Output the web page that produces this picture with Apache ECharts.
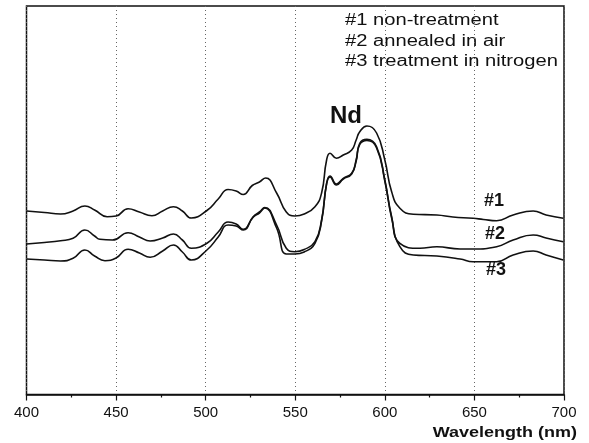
<!DOCTYPE html>
<html>
<head>
<meta charset="utf-8">
<script src="https://cdn.jsdelivr.net/npm/echarts@6/dist/echarts.min.js"></script>
<style>html,body{margin:0;padding:0;background:#fff}#c{width:589px;height:443px}</style>
</head>
<body>
<div id="c"></div>
<script>
// Wavelength (nm) and intensity (arbitrary units)
const wl1 = [400,410,419,426,432.6,438,445,450,456.7,463,470,476,482,487,492,500.7,507,512.5,517,521,526,530,533.5,539.6,545,549.8,555,561,564.7,567.5,569.4,573,576.8,581.5,584,586,590,595.4,600,603.8,608.4,615.9,629,638,649.3,655,662.4,671.6,682.8,690,699.6];
const s1 = [183.5,182,180.5,183.5,188.5,184.5,177.8,178.5,185.8,182.5,178.8,183.5,187.8,183.5,176.5,184,195.5,205,203.5,200,209,212.5,216.5,201.5,182.5,178.5,180.5,187.8,201.5,234.5,241.2,236.2,239.5,244.5,254.5,262.8,268.5,261.5,234.5,202.8,186.2,180.2,179.5,177.5,176.2,175,173.8,179.5,183.5,179.5,176.2];

const wl2 = [400,410,419,426,432.6,438,441,448,456.7,463,469,476,482,487,492,500.7,507,512.5,517,521,526.5,530,533,539.6,545,549.8,555,561,564.7,567.5,569.4,573,576.8,581.5,584,586,590,595.4,600,603.8,608.4,619.6,629,642,649.3,662.4,671.6,682.8,690,699.6];
const s2 = [150.5,152,153.8,156.2,164.5,158.5,155.2,154.5,161.8,157.5,153.5,156.5,160.5,154.5,146.2,151.2,162.5,172.5,170.5,165.2,177.8,182.5,187,169.5,146.2,142.8,145,152.8,174.5,211.2,218.5,210.5,216.2,221.2,234.5,251.2,255.2,247.8,214.5,177.8,151.2,146.2,147.8,145.5,145.5,147.8,154.5,159.5,156.5,152.8];

const wl3 = [400,410,419,426,432.6,438,443.8,450,456.7,463,469,476,482,487,492,500.7,507,512.5,517,521,526.5,530,533,539.6,545,549.8,555,561,564.7,567.5,569.4,573,576.8,581.5,584,586,590,595.4,600,603.8,608.4,615.9,629,642,649.3,662.4,671.6,682.8,690,699.6];
const s3 = [135.5,134.5,133.5,136.2,144.5,138.5,133.8,136.5,145.2,141.5,137.2,143.5,149.5,142.5,134.5,144.5,157.5,169.5,168.5,164.5,177.2,181.5,186.5,166.5,140.5,140.5,142.5,151.2,173.5,210.5,217.5,209.5,215.5,220.5,233.5,250,254,246.5,213.5,176.5,147.8,139.5,138.5,135.5,132.8,132.8,139.5,143.5,139.5,134.5];

const xTicks = [400,450,500,550,600,650,700];
const legendLines = ['#1 non-treatment', '#2 annealed in air', '#3 treatment in nitrogen'];
const curveLabels = ['#1', '#2', '#3'];
const peakLabel = 'Nd';
const xTitle = 'Wavelength (nm)';

const zip = (a, b) => a.map((v, i) => [v, b[i]]);
const FONT = '"Liberation Sans", Arial, sans-serif';

const lineSeries = (name, data) => ({
  name, type: 'line', data, symbol: 'none', smooth: 0.5,
  lineStyle: { color: '#111', width: 1.6 }, silent: true, animation: false
});

const chart = echarts.init(document.getElementById('c'), null, { renderer: 'canvas' });
chart.setOption({
  animation: false,
  backgroundColor: '#fff',
  grid: { left: 26.5, right: 25, top: 6, bottom: 48.5, show: true, borderColor: '#111', borderWidth: 1.5, backgroundColor: 'transparent' },
  xAxis: {
    type: 'value', min: xTicks[0], max: xTicks[xTicks.length - 1], interval: 50,
    axisLine: { show: true, lineStyle: { color: '#111', width: 1.5 } },
    axisTick: { show: true, inside: false, length: 6, lineStyle: { color: '#111', width: 1.2 } },
    minorTick: { show: true, splitNumber: 2, length: 3, lineStyle: { color: '#111', width: 1.2 } },
    axisLabel: { color: '#111', fontSize: 15, fontFamily: FONT, margin: 11 },
    splitLine: { show: true, lineStyle: { color: '#666', type: [1, 3], width: 1 } }
  },
  yAxis: {
    type: 'value', min: 0, max: 388.5,
    axisLine: { show: false }, axisTick: { show: false }, axisLabel: { show: false }, splitLine: { show: false }
  },
  series: [
    lineSeries('#1', zip(wl1, s1)),
    lineSeries('#2', zip(wl2, s2)),
    lineSeries('#3', zip(wl3, s3))
  ],
  graphic: [
    ...legendLines.map((t, i) => ({
      type: 'text', x: 345, y: 21 + i * 20.5, scaleX: 1.26,
      style: { text: t, fill: '#111', font: '16px ' + FONT, textAlign: 'left', textVerticalAlign: 'middle' }
    })),
    { type: 'text', x: 346, y: 116, style: { text: peakLabel, fill: '#111', font: 'bold 24px ' + FONT, textAlign: 'center', textVerticalAlign: 'middle' } },
    { type: 'text', x: 494, y: 201, style: { text: curveLabels[0], fill: '#111', font: 'bold 18px ' + FONT, textAlign: 'center', textVerticalAlign: 'middle' } },
    { type: 'text', x: 495, y: 234, style: { text: curveLabels[1], fill: '#111', font: 'bold 18px ' + FONT, textAlign: 'center', textVerticalAlign: 'middle' } },
    { type: 'text', x: 496, y: 270, style: { text: curveLabels[2], fill: '#111', font: 'bold 18px ' + FONT, textAlign: 'center', textVerticalAlign: 'middle' } },
    { type: 'text', x: 577, y: 433, scaleX: 1.2, style: { text: xTitle, fill: '#111', font: 'bold 15px ' + FONT, textAlign: 'right', textVerticalAlign: 'middle' } }
  ]
});
</script>
</body>
</html>
